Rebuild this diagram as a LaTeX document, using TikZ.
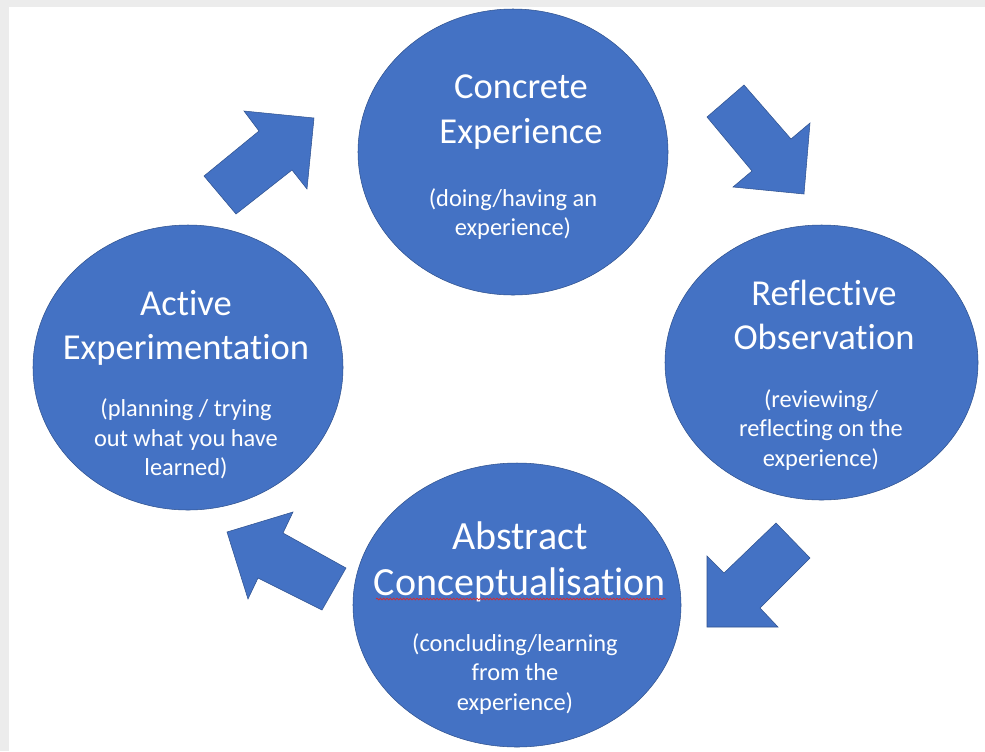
\documentclass[tikz,border=0pt]{standalone}
\definecolor{stageblue}{RGB}{68, 114, 196}
\definecolor{stageedge}{RGB}{47, 82, 143}
\definecolor{framegrey}{RGB}{236, 236, 236}
\definecolor{spellred}{RGB}{220, 40, 40}
\usepackage{fontspec}
\setmainfont{Carlito}[Ligatures={TeX,NoCommon}]
\usepackage{tikz}
\usetikzlibrary{shapes.geometric,decorations.pathmorphing}
\tikzset{every picture/.style={line width=0.75pt}}
\tikzset{
  stage/.style={ellipse, fill=stageblue, draw=stageedge, line width=0.4pt, inner sep=0pt},
  stagetitle/.style={text=white, align=center, inner sep=0pt, font=\fontsize{27.4}{33.4}\selectfont},
  stagenote/.style={text=white, align=center, inner sep=0pt, font=\fontsize{18.3}{22.3}\selectfont},
  cyclearrow/.style={fill=stageblue, draw=stageedge, line width=0.4pt, line join=miter}
}

\begin{document}
\begin{tikzpicture}[x=0.75pt,y=0.75pt,yscale=-1,xscale=1]
%set diagram left start at 0, and has height of 751
\useasboundingbox (0,0) rectangle (985,751);
\fill [white] (0,0) rectangle (985,751);
\fill [framegrey] (0,0) rectangle (985,7);
\fill [framegrey] (0,0) rectangle (9,751);

%Shape: Ellipse [id:dp3815204967]
\node [stage, minimum width=232.5pt, minimum height=214.5pt] (ce) at (513,152) {};
%Shape: Ellipse [id:dp7042159386]
\node [stage, minimum width=234.75pt, minimum height=206.25pt] (ro) at (821.5,362.5) {};
%Shape: Ellipse [id:dp5561830247]
\node [stage, minimum width=246pt, minimum height=213pt] (ac) at (517,605) {};
%Shape: Ellipse [id:dp2290471853]
\node [stage, minimum width=232.5pt, minimum height=213.75pt] (ae) at (188,367.5) {};

%Shape: Right Arrow [id:dp6618302741]
\draw [cyclearrow] (204,176) -- (259,131) -- (244,111) -- (314,118) -- (307,189) -- (292,170) -- (236,214) -- cycle ;
%Shape: Right Arrow [id:dp1847520963]
\draw [cyclearrow] (707,117) -- (744,85) -- (791,139) -- (810,123) -- (804,194) -- (733,187) -- (752,171) -- cycle ;
%Shape: Right Arrow [id:dp9034471125]
\draw [cyclearrow] (776,523) -- (810,558) -- (760,608) -- (778,627) -- (707,627) -- (707,556) -- (724,573) -- cycle ;
%Shape: Right Arrow [id:dp4479302616]
\draw [cyclearrow] (346,568) -- (322,610) -- (258,578) -- (248,599) -- (227,532) -- (293,512) -- (283,533) -- cycle ;

% Text Node
\node [stagetitle] (ce-title) at (521,112) {Concrete\\Experience};
% Text Node
\node [stagenote] (ce-note) at (513,214) {(doing/having an\\experience)};
% Text Node
\node [stagetitle] (ro-title) at (824,315) {Reflective\\Observation};
% Text Node
\node [stagenote] (ro-note) at (821,430) {(reviewing/\\reflecting on the\\experience)};
% Text Node
\node [stagetitle, font=\fontsize{30}{34.5}\selectfont] (ac-title) at (520,562) {Abstract\\Conceptualisation};
% Text Node
\node [stagenote] (ac-note) at (515,674) {(concluding/learning\\from the\\experience)};
% Text Node
\node [stagetitle] (ae-title) at (186,328) {Active\\Experimentation};
% Text Node
\node [stagenote] (ae-note) at (186,439) {(planning / trying\\out what you have\\learned)};

%Spelling mark
\draw [spellred, line width=0.5pt, decorate, decoration={snake, amplitude=0.7pt, segment length=2.5pt}] (376,599) -- (666,599) ;

\end{tikzpicture}
\end{document}
